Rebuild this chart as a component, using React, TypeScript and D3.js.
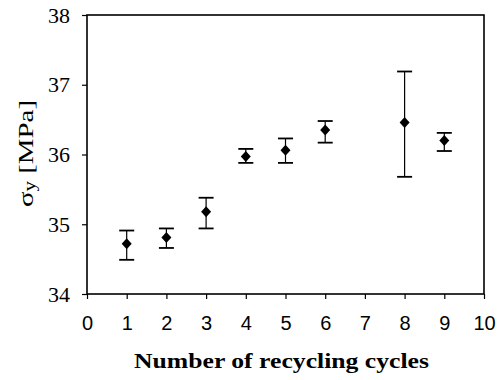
import React, { useEffect, useRef } from 'react';
import * as d3 from 'd3';

const cycles = [1, 2, 3, 4, 5, 6, 8, 9];
const meanStress = [34.72, 34.81, 35.18, 35.97, 36.06, 36.35, 36.46, 36.2];
const upperErr = [34.91, 34.94, 35.38, 36.08, 36.23, 36.48, 37.19, 36.31];
const lowerErr = [34.49, 34.66, 34.94, 35.88, 35.88, 36.17, 35.68, 36.05];
const xTicks = [0, 1, 2, 3, 4, 5, 6, 7, 8, 9, 10];
const yTicks = [34, 35, 36, 37, 38];

const W = 499;
const H = 380;
const margin = { left: 87, right: 15, top: 15, bottom: 86 };

const App: React.FC = () => {
  const svgRef = useRef<SVGSVGElement>(null);

  useEffect(() => {
    if (!svgRef.current) return;
    const svg = d3.select(svgRef.current);
    svg.selectAll('*').remove();

    const x = d3.scaleLinear().domain([0, 10]).range([margin.left, W - margin.right]);
    const y = d3.scaleLinear().domain([34, 38]).range([H - margin.bottom, margin.top]);

    // frame
    svg.append('rect')
      .attr('x', x(0)).attr('y', y(38))
      .attr('width', x(10) - x(0)).attr('height', y(34) - y(38))
      .attr('fill', 'none').attr('stroke', '#000').attr('stroke-width', 1.6);

    const xAxis = svg.append('g')
      .attr('transform', `translate(0,${y(34)})`)
      .call(d3.axisBottom(x).tickValues(xTicks).tickSize(5).tickPadding(17).tickFormat(d3.format('d')));
    xAxis.select('.domain').remove();
    xAxis.selectAll('line').attr('stroke-width', 1.2);
    xAxis.selectAll('text')
      .attr('font-family', '"Liberation Sans", Arial, sans-serif')
      .attr('font-size', 20).attr('fill', '#000');

    const yAxis = svg.append('g')
      .attr('transform', `translate(${x(0)},0)`)
      .call(d3.axisLeft(y).tickValues(yTicks).tickSize(5).tickPadding(12).tickFormat(d3.format('d')));
    yAxis.select('.domain').remove();
    yAxis.selectAll('line').attr('stroke-width', 1.2);
    yAxis.selectAll('text')
      .attr('font-family', '"Liberation Serif", "Times New Roman", serif')
      .attr('font-size', 22).attr('fill', '#000');

    const pts = cycles.map((c, i) => ({ c, m: meanStress[i], hi: upperErr[i], lo: lowerErr[i] }));
    const cap = 7.5;

    const g = svg.append('g');
    g.selectAll('line.err')
      .data(pts).enter().append('line')
      .attr('x1', d => x(d.c)).attr('x2', d => x(d.c))
      .attr('y1', d => y(d.hi)).attr('y2', d => y(d.lo))
      .attr('stroke', '#000').attr('stroke-width', 1.2);
    g.selectAll('line.capt')
      .data(pts).enter().append('line')
      .attr('x1', d => x(d.c) - cap).attr('x2', d => x(d.c) + cap)
      .attr('y1', d => y(d.hi)).attr('y2', d => y(d.hi))
      .attr('stroke', '#000').attr('stroke-width', 1.8);
    g.selectAll('line.capb')
      .data(pts).enter().append('line')
      .attr('x1', d => x(d.c) - cap).attr('x2', d => x(d.c) + cap)
      .attr('y1', d => y(d.lo)).attr('y2', d => y(d.lo))
      .attr('stroke', '#000').attr('stroke-width', 1.8);

    const hw = 5, hh = 5.5;
    g.selectAll('path.pt')
      .data(pts).enter().append('path')
      .attr('d', `M0,${-hh}L${hw},0L0,${hh}L${-hw},0Z`)
      .attr('transform', d => `translate(${x(d.c)},${y(d.m)})`)
      .attr('fill', '#000');

    svg.append('text')
      .attr('x', 134).attr('y', 368)
      .attr('textLength', 295).attr('lengthAdjust', 'spacingAndGlyphs')
      .attr('font-family', '"Liberation Serif", "Times New Roman", serif')
      .attr('font-weight', 'bold').attr('font-size', 21)
      .text('Number of recycling cycles');

    const yt = svg.append('text')
      .attr('transform', `translate(33,207) rotate(-90)`)
      .attr('textLength', 107).attr('lengthAdjust', 'spacingAndGlyphs')
      .attr('font-family', '"Liberation Serif", "Times New Roman", serif')
      .attr('font-size', 22);
    yt.append('tspan').text('σ');
    yt.append('tspan').attr('font-size', 16).attr('dy', 2).text('y');
    yt.append('tspan').attr('dy', -2).text(' [MPa]');
  }, []);

  return (
    <svg
      ref={svgRef}
      width={W}
      height={H}
      style={{ position: 'absolute', left: 0, top: 0, background: '#fff' }}
    />
  );
};

export default App;
